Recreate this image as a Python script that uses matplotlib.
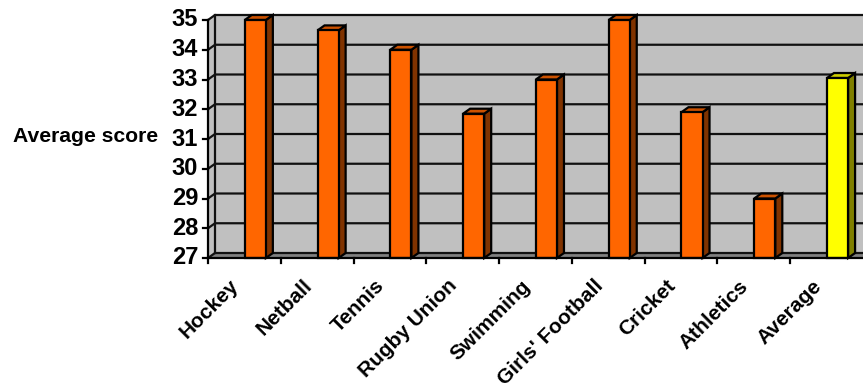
import numpy as np
import matplotlib
matplotlib.use("Agg")
import matplotlib.pyplot as plt
from matplotlib.patches import Polygon, Rectangle

plt.rcParams["font.family"] = ["Liberation Sans", "DejaVu Sans"]
plt.rcParams["font.weight"] = "bold"

categories = ["Hockey", "Netball", "Tennis", "Rugby Union", "Swimming",
              "Girls' Football", "Cricket", "Athletics", "Average"]
scores = [35, 34.65, 34, 31.85, 33, 35, 31.9, 29, 33.05]
y_ticks = list(range(27, 36))

W, H = 863, 383
fig = plt.figure(figsize=(W / 100, H / 100), dpi=100)
# axes = front plane of the fake 3D box
ax = fig.add_axes([208 / W, 1 - 258 / H, (W - 208) / W, 238 / H])
ax.set_xlim(0, 9)
ax.set_ylim(27, 35)

DX = 7 / 72.8   # depth in category units
DY = 5 / 29.75  # depth in score units
LW = 1.6
ax.axis("off")

# back wall and floor
ax.add_patch(Rectangle((DX, 27 + DY), 9, 8, fc="#c0c0c0", ec="none", clip_on=False, zorder=1))
ax.add_patch(Polygon([(0, 27), (DX, 27 + DY), (9 + DX, 27 + DY), (9, 27)],
                     fc="#808080", ec="none", clip_on=False, zorder=1))
ax.add_patch(Polygon([(0, 27), (DX, 27 + DY), (DX, 35 + DY), (0, 35)],
                     fc="#c0c0c0", ec="none", clip_on=False, zorder=1))

# gridlines, going round the side wall
for v in y_ticks:
    ax.plot([0, DX, 9.2], [v, v + DY, v + DY], color="#111111", lw=LW, clip_on=False, zorder=2)
ax.plot([DX, DX], [27 + DY, 35 + DY], color="#111111", lw=LW, clip_on=False, zorder=2)

# axis lines and ticks
ax.plot([0, 0], [27, 35], color="black", lw=LW, clip_on=False, zorder=3)
ax.plot([0, 9.2], [27, 27], color="black", lw=LW, clip_on=False, zorder=6)
for v in y_ticks:
    ax.plot([-5 / 72.8, 0], [v, v], color="black", lw=LW, clip_on=False, zorder=3)
    ax.text(-10 / 72.8, v, str(v), ha="right", va="center", fontsize=17, clip_on=False)
for i in range(9):
    ax.plot([i, i], [27, 27 - 5 / 29.75], color="black", lw=LW, clip_on=False, zorder=3)

# bars
BAR_L, BAR_W = 0.505, 0.29
for i, (name, val) in enumerate(zip(categories, scores)):
    if name == "Average":
        front, top, side = "#ffff00", "#cccc00", "#808000"
    else:
        front, top, side = "#ff6600", "#cc5200", "#803300"
    x0, x1 = i + BAR_L, i + BAR_L + BAR_W
    ax.add_patch(Polygon([(x1, 27), (x1 + DX, 27 + DY), (x1 + DX, val + DY), (x1, val)],
                         fc=side, ec="black", lw=LW, zorder=4, clip_on=False))
    ax.add_patch(Polygon([(x0, val), (x0 + DX, val + DY), (x1 + DX, val + DY), (x1, val)],
                         fc=top, ec="black", lw=LW, zorder=4, clip_on=False))
    ax.add_patch(Rectangle((x0, 27), BAR_W, val - 27, fc=front, ec="black", lw=LW,
                           zorder=5, clip_on=False))
    ax.annotate(name, xy=(i + 0.5, 27), xytext=(-6, -18), textcoords="offset points",
                rotation=45, rotation_mode="anchor", ha="right", va="center",
                fontsize=15, annotation_clip=False)

fig.text(85.5 / W, 1 - 137 / H, "Average score", ha="center", va="center", fontsize=15.2)

fig.savefig("out.png", dpi=100)
